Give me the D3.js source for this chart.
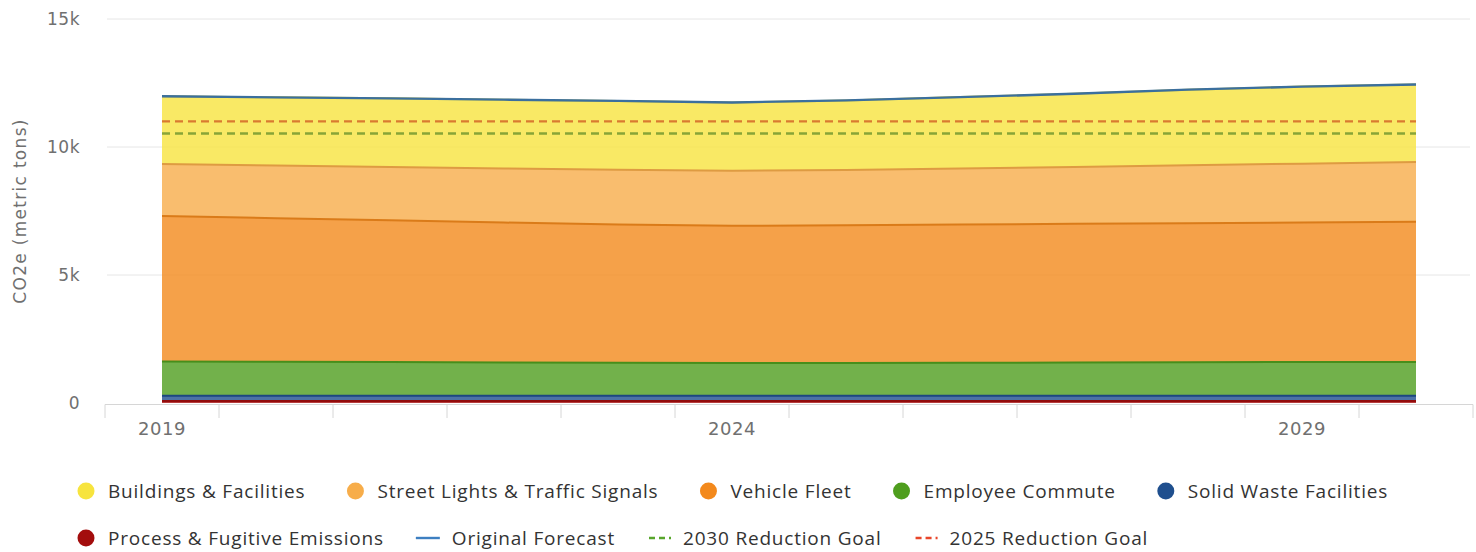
<!DOCTYPE html>
<html>
<head>
<meta charset="utf-8">
<script src="https://cdn.jsdelivr.net/npm/d3@7"></script>
<style>
  body { margin: 0; background: #fff; }
  svg { display: block; }
</style>
</head>
<body>
<script>
// values in metric tons CO2e
const years = [2019, 2020, 2021, 2022, 2023, 2024, 2025, 2026, 2027, 2028, 2029, 2030];
const buildings = [2640, 2660, 2680, 2690, 2690, 2670, 2720, 2790, 2860, 2950, 3010, 3030];
const streetLights = [2040, 2060, 2080, 2110, 2140, 2150, 2160, 2190, 2220, 2270, 2300, 2330];
const vehicleFleet = [5680, 5610, 5540, 5470, 5400, 5360, 5380, 5400, 5420, 5430, 5450, 5480];
const employeeCommute = [1340, 1330, 1320, 1300, 1290, 1280, 1280, 1290, 1300, 1310, 1320, 1320];
const solidWaste = [200, 200, 200, 200, 200, 200, 200, 200, 200, 200, 200, 200];
const processFugitive = [80, 80, 80, 80, 80, 80, 80, 80, 80, 80, 80, 80];
const originalForecast = [11980, 11940, 11900, 11850, 11800, 11740, 11820, 11950, 12080, 12240, 12360, 12440];
const goal2030 = [10530, 10530, 10530, 10530, 10530, 10530, 10530, 10530, 10530, 10530, 10530, 10530];
const goal2025 = [11000, 11000, 11000, 11000, 11000, 11000, 11000, 11000, 11000, 11000, 11000, 11000];
const yTicks = [0, 5000, 10000, 15000];
const yTickLabels = ["0", "5k", "10k", "15k"];
const xLabelYears = [2019, 2024, 2029];

const areaSeries = [
    { key: "buildings", name: "Buildings & Facilities", color: "#f7e43e", values: buildings },
    { key: "street", name: "Street Lights & Traffic Signals", color: "#f7ad4a", values: streetLights },
    { key: "vehicle", name: "Vehicle Fleet", color: "#f3891c", values: vehicleFleet },
    { key: "commute", name: "Employee Commute", color: "#4f9e1e", values: employeeCommute },
    { key: "waste", name: "Solid Waste Facilities", color: "#1f4f8e", values: solidWaste },
    { key: "process", name: "Process & Fugitive Emissions", color: "#a30d0d", values: processFugitive }
];
const lineSeries = [
    { name: "Original Forecast", color: "#3d7fc1", plotColor: "#3b6f9e", dash: null, values: originalForecast },
    { name: "2030 Reduction Goal", color: "#58a62c", plotColor: "#88a437", dash: "8,5", values: goal2030 },
    { name: "2025 Reduction Goal", color: "#e8462a", plotColor: "#d97a30", dash: "8,5", values: goal2025 }
];

const width = 1476, height = 552;
const margin = { left: 105, right: 3, top: 19, bottom: 149 };
const labelFont = "DejaVu Sans, sans-serif";

const svg = d3.select("body").append("svg")
    .attr("width", width)
    .attr("height", height);

const x = d3.scaleBand()
    .domain(years)
    .range([margin.left, width - margin.right])
    .padding(0);
const px = d => x(d) + x.bandwidth() / 2;

const y = d3.scaleLinear()
    .domain([0, 15000])
    .range([height - margin.bottom, margin.top]);

// gridlines
svg.append("g")
    .selectAll("line")
    .data(yTicks.filter(d => d > 0))
    .join("line")
    .attr("x1", margin.left + 2)
    .attr("x2", width - margin.right - 3)
    .attr("y1", d => y(d))
    .attr("y2", d => y(d))
    .attr("stroke", "#e6e6e6")
    .attr("stroke-width", 1);

// y tick labels
svg.append("g")
    .selectAll("text")
    .data(yTicks)
    .join("text")
    .attr("x", 80)
    .attr("y", d => y(d) + 6)
    .attr("text-anchor", "end")
    .attr("font-family", labelFont)
    .attr("font-size", 17)
    .attr("letter-spacing", 0.5)
    .attr("fill", "#707070")
    .text((d, i) => yTickLabels[i]);

svg.append("text")
    .attr("transform", `translate(26,${y(7500)}) rotate(-90)`)
    .attr("text-anchor", "middle")
    .attr("font-family", labelFont)
    .attr("font-size", 17)
    .attr("letter-spacing", 1.3)
    .attr("fill", "#707070")
    .text("CO2e (metric tons)");

// stacked areas
const table = years.map((yr, i) => {
    let row = { year: yr };
    areaSeries.forEach(s => row[s.key] = s.values[i]);
    return row;
});

const stackOrder = areaSeries.slice().reverse();
const stacked = d3.stack().keys(stackOrder.map(s => s.key))(table);

const area = d3.area()
    .x(d => px(d.data.year))
    .y0(d => y(d[0]))
    .y1(d => y(d[1]));

const topLine = d3.line()
    .x(d => px(d.data.year))
    .y(d => y(d[1]));

const plot = svg.append("g");

stacked.forEach((layer, i) => {
    let s = stackOrder[i];
    plot.append("path")
        .datum(layer)
        .attr("d", area)
        .attr("fill", s.color)
        .attr("fill-opacity", 0.8);
});
stacked.forEach((layer, i) => {
    let s = stackOrder[i];
    plot.append("path")
        .datum(layer)
        .attr("d", topLine)
        .attr("fill", "none")
        .attr("stroke", d3.color(s.color).darker(0.3))
        .attr("stroke-width", 2);
});

// x axis
const axisY = y(0);
svg.append("line")
    .attr("x1", margin.left)
    .attr("x2", width - margin.right)
    .attr("y1", axisY + 1.5)
    .attr("y2", axisY + 1.5)
    .attr("stroke", "#d6d6d6");

const boundaries = years.map(d => x(d)).concat([x(years[years.length - 1]) + x.bandwidth()]);
svg.append("g")
    .selectAll("line")
    .data(boundaries)
    .join("line")
    .attr("x1", d => d)
    .attr("x2", d => d)
    .attr("y1", axisY + 1.5)
    .attr("y2", axisY + 15)
    .attr("stroke", "#d6d6d6");

svg.append("g")
    .selectAll("text")
    .data(xLabelYears)
    .join("text")
    .attr("x", d => px(d))
    .attr("y", axisY + 32)
    .attr("text-anchor", "middle")
    .attr("font-family", labelFont)
    .attr("font-size", 18)
    .attr("letter-spacing", 0.5)
    .attr("fill", "#707070")
    .text(d => d);

// line series
const valueLine = d3.line()
    .x((d, i) => px(years[i]))
    .y(d => y(d));

lineSeries.slice().reverse().forEach(s => {
    plot.append("path")
        .datum(s.values)
        .attr("d", valueLine)
        .attr("fill", "none")
        .attr("stroke", s.plotColor)
        .attr("stroke-width", 2.4)
        .attr("stroke-dasharray", s.dash);
});

// legend
const legendItems = areaSeries.map(s => ({ name: s.name, color: s.color, type: "dot" }))
    .concat(lineSeries.map(s => ({ name: s.name, color: s.color, type: "line", dash: s.dash })));
const rows = [legendItems.slice(0, 5), legendItems.slice(5)];
const rowY = [491, 538];
const rowGap = [72, 68];
const legendTextX = 108;

const legend = svg.append("g")
    .attr("font-family", "Open Sans, sans-serif")
    .attr("font-size", 19)
    .attr("letter-spacing", 0.8)
    .attr("fill", "#333");

rows.forEach((row, r) => {
    let tx = legendTextX;
    row.forEach(item => {
        let g = legend.append("g").attr("transform", `translate(${tx},${rowY[r]})`);
        if (item.type === "dot") {
            g.append("circle")
                .attr("cx", -22)
                .attr("cy", 0)
                .attr("r", 8.5)
                .attr("fill", item.color);
        } else {
            g.append("line")
                .attr("x1", item.dash ? -34 : -36)
                .attr("x2", -12)
                .attr("y1", 0)
                .attr("y2", 0)
                .attr("stroke", item.color)
                .attr("stroke-width", 2.4)
                .attr("stroke-dasharray", item.dash ? "6,4" : null);
        }
        let t = g.append("text")
            .attr("x", 0)
            .attr("y", 7)
            .text(item.name);
        tx += t.node().getComputedTextLength() + rowGap[r];
    });
});
</script>
</body>
</html>
